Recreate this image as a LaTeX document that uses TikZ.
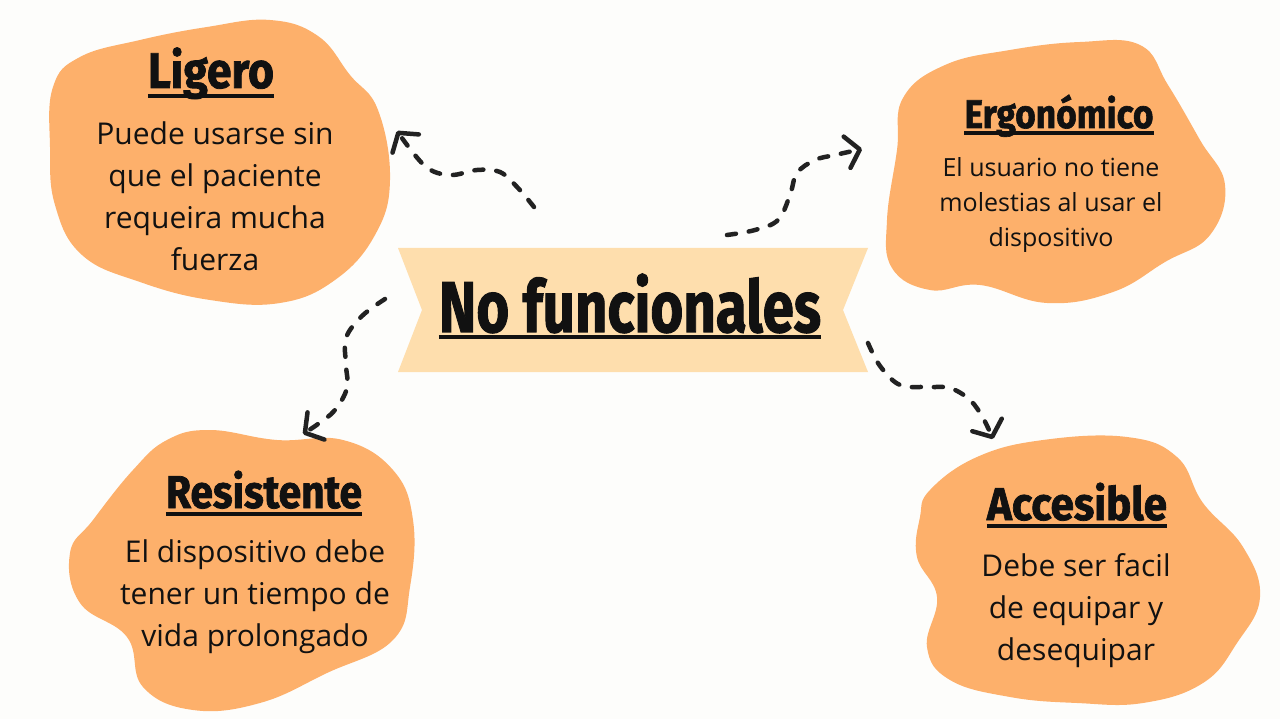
\documentclass[tikz,border=0pt]{standalone}
\usepackage{fontspec}
\usepackage{graphicx}
\setmainfont{Open Sans}
\newfontfamily\headfont{Fira Sans}[BoldFeatures={FakeBold=1.6}]
\usetikzlibrary{arrows.meta}
\definecolor{bg}{HTML}{FDFDFB}
\definecolor{blob}{HTML}{FDB06B}
\definecolor{bannerc}{HTML}{FEDEAD}
\definecolor{ink}{HTML}{111111}
\definecolor{arrowc}{HTML}{222222}
\newcommand\hdtext[3]{\resizebox{#1}{\height}{\fontsize{#2}{#2}\selectfont\headfont\bfseries #3}}
\tikzset{
  blobfill/.style={fill=blob},
  head/.style={inner sep=0pt, anchor=base, text=ink},
  body/.style={inner sep=0pt, align=center, text=ink},
  uline/.style={draw=ink, line width=4pt},
  conn/.style={draw=arrowc, line width=4.5pt, line cap=round, dash pattern=on 9pt off 13pt,
    -{Straight Barb[length=13pt,width=32pt,round]}},
}
\begin{document}
\begin{tikzpicture}[x=1pt,y=-1pt]
\useasboundingbox (0,0) rectangle (1280,719);
\fill[bg] (0,0) rectangle (1280,719);

% blobs
\fill[blobfill] plot[smooth cycle, tension=0.7] coordinates {
 (53,87) (80,57) (140,40) (207,27) (270,20) (318,36) (350,75) (378,110) (390,180)
 (375,235) (335,280) (280,303) (210,300) (140,282) (82,255) (55,205) (50,147)};
\fill[blobfill] plot[smooth cycle, tension=0.7] coordinates {
 (903,98) (945,65) (1010,50) (1080,42) (1140,45) (1168,85) (1200,140) (1225,185)
 (1210,235) (1165,262) (1113,292) (1047,303) (980,285) (930,290) (892,268) (887,220) (897,150)};
\fill[blobfill] plot[smooth cycle, tension=0.7] coordinates {
 (167,440) (210,430) (277,440) (343,440) (393,470) (413,520) (410,587) (393,640)
 (327,673) (260,703) (193,710) (143,687) (127,637) (80,603) (70,553) (93,520) (133,470)};
\fill[blobfill] plot[smooth cycle, tension=0.7] coordinates {
 (930,490) (977,457) (1043,440) (1127,437) (1177,457) (1203,503) (1243,547) (1260,597)
 (1237,643) (1203,683) (1143,703) (1077,703) (1010,697) (950,680) (927,647) (937,597) (917,557) (920,517)};

% banner
\fill[bannerc] (398,248) -- (868,248) -- (843,310) -- (868,372) -- (398,372) -- (422,310) -- cycle;

% headings
\node[head] (hc) at (630,332) {\hdtext{382pt}{72}{No funcionales}};
\draw[uline] ([yshift=-5pt]hc.base west) -- ([yshift=-5pt]hc.base east);
\node[head] (h1) at (211,88) {\hdtext{126pt}{50}{Ligero}};
\draw[uline] ([yshift=-8pt]h1.base west) -- ([yshift=-8pt]h1.base east);
\node[head] (h2) at (1059,128) {\hdtext{189pt}{40}{Ergonómico}};
\draw[uline] ([yshift=-5pt]h2.base west) -- ([yshift=-5pt]h2.base east);
\node[head] (h3) at (264,508) {\hdtext{196pt}{46}{Resistente}};
\draw[uline] ([yshift=-6pt]h3.base west) -- ([yshift=-6pt]h3.base east);
\node[head] (h4) at (1077,520) {\hdtext{180pt}{46}{Accesible}};
\draw[uline] ([yshift=-6pt]h4.base west) -- ([yshift=-6pt]h4.base east);

% bodies
\node[body, font=\fontsize{30}{42}\selectfont] (b1) at (215,196) {Puede usarse sin\\que el paciente\\requeira mucha\\fuerza};
\node[body, font=\fontsize{25}{35}\selectfont] (b2) at (1051,205) {El usuario no tiene\\molestias al usar el\\dispositivo};
\node[body, font=\fontsize{30}{42}\selectfont] (b3) at (255,597) {El dispositivo debe\\tener un tiempo de\\vida prolongado};
\node[body, font=\fontsize{30}{42}\selectfont] (b4) at (1076,611) {Debe ser facil\\de equipar y\\desequipar};

% connectors
\coordinate (a1s) at (534,207); \coordinate (a1e) at (397,131);
\coordinate (a2s) at (727,235); \coordinate (a2e) at (862,149);
\coordinate (a3s) at (385,299); \coordinate (a3e) at (303,434);
\coordinate (a4s) at (868,343); \coordinate (a4e) at (993,439);
\draw[conn] plot[smooth, tension=0.6] coordinates {(a1s) (518,188) (500,172) (477,170) (450,175) (425,166) (a1e)};
\draw[conn] plot[smooth, tension=0.6] coordinates {(a2s) (755,230) (778,220) (790,195) (797,173) (815,160) (835,155) (a2e)};
\draw[conn] plot[smooth, tension=0.6] coordinates {(a3s) (362,316) (346,338) (346,365) (347,388) (335,410) (318,424) (a3e)};
\draw[conn] plot[smooth, tension=0.6] coordinates {(a4s) (880,366) (900,385) (928,387) (950,388) (970,400) (983,418) (a4e)};
\end{tikzpicture}
\end{document}
